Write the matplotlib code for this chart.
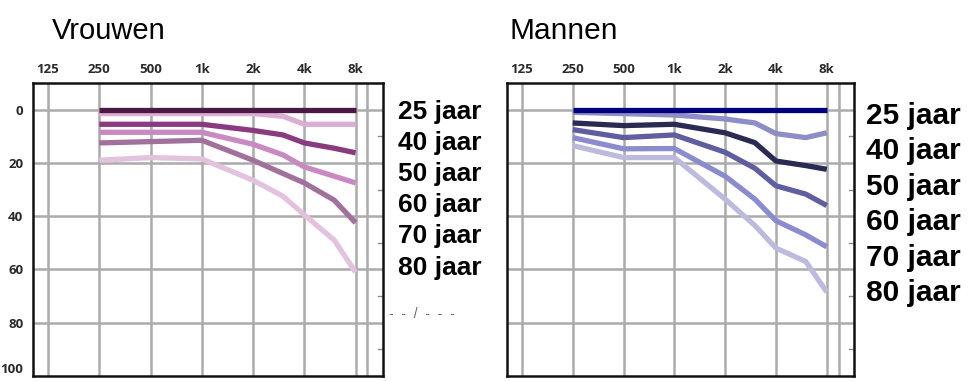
import matplotlib
matplotlib.use("Agg")
import matplotlib.pyplot as plt
from matplotlib.ticker import NullLocator
from matplotlib.transforms import blended_transform_factory

# ---- data ----
freqs = [250, 500, 1000, 2000, 3000, 4000, 6000, 8000]
ages = ["25 jaar", "40 jaar", "50 jaar", "60 jaar", "70 jaar", "80 jaar"]

women_25 = [0, 0, 0, 0, 0, 0, 0, 0]
women_40 = [1.5, 1.5, 1.5, 1.5, 2.5, 5.5, 5.5, 5.5]
women_50 = [5.5, 5.5, 5.5, 7.8, 9.5, 12.5, 14.5, 16.2]
women_60 = [8.5, 8.5, 8.5, 13, 17, 21.5, 25, 27.5]
women_70 = [12.5, 12, 11.5, 19, 24, 27.5, 34, 42.5]
women_80 = [19, 18, 18.5, 26.5, 32.5, 39.5, 49, 61]

men_25 = [0, 0, 0, 0, 0, 0, 0, 0]
men_40 = [1, 1.5, 2, 3.5, 5, 9, 10.5, 8.7]
men_50 = [5, 6, 5.5, 8.7, 12.4, 19.3, 21, 22.4]
men_60 = [7.5, 10.5, 9.5, 16, 22, 28.6, 31.7, 36]
men_70 = [10.5, 14.7, 14.6, 25, 33.6, 41.7, 47, 51.5]
men_80 = [13.5, 18, 18, 33.6, 43.5, 52, 57, 68.5]

tick_freqs = [125, 250, 500, 1000, 2000, 4000, 8000]
tick_labels = ["125", "250", "500", "1k", "2k", "4k", "8k"]
extra_grid_freq = 9400
db_ticks = [0, 20, 40, 60, 80, 100]
db_minor = [10, 30, 50, 70, 90]

women_series = [women_25, women_40, women_50, women_60, women_70, women_80]
men_series = [men_25, men_40, men_50, men_60, men_70, men_80]
women_colors = ["#4b1a44", "#dcaed6", "#8a3b80", "#c98ac2", "#a1709b", "#e3c2de"]
men_colors = ["#00007f", "#8e8ec6", "#2b2a52", "#5f5ea0", "#8b8bcf", "#bcbbdd"]

fig = plt.figure(figsize=(9.8, 3.81), dpi=100)

def setup(ax, show_y):
    ax.set_xscale("log", base=2)
    ax.set_xlim(102, 11600)
    ax.set_ylim(100, -10)
    ax.set_xticks(tick_freqs)
    ax.set_xticklabels(tick_labels)
    ax.xaxis.set_minor_locator(NullLocator())
    ax.yaxis.set_minor_locator(NullLocator())
    ax.xaxis.tick_top()
    ax.tick_params(axis="x", length=0, pad=5, labelsize=9.5, labelcolor="#2a2a2a")
    for lab in ax.get_xticklabels():
        lab.set_fontweight("bold")
        lab.set_family("Open Sans")
    ax.set_yticks(db_ticks)
    if show_y:
        ax.set_yticklabels([str(v) for v in db_ticks])
        ax.tick_params(axis="y", length=0, pad=7, labelsize=9.5, labelcolor="#2a2a2a")
        labs = ax.get_yticklabels()
        for lab in labs:
            lab.set_fontweight("bold")
            lab.set_family("Open Sans")
        labs[-1].set_verticalalignment("bottom")
    else:
        ax.set_yticklabels([])
        ax.tick_params(axis="y", length=0)
    for f in tick_freqs + [extra_grid_freq]:
        ax.axvline(f, color="#ababab", lw=1.8, zorder=1)
    for d in db_ticks[:-1]:
        ax.axhline(d, color="#ababab", lw=1.8, zorder=1)
    tr = blended_transform_factory(ax.transAxes, ax.transData)
    for d in db_minor:
        ax.plot([0.985, 1.0], [d, d], transform=tr, color="#8a8a8a", lw=1.0, zorder=2)
    for s in ax.spines.values():
        s.set_color("#111111")
        s.set_linewidth(1.8)

axL = fig.add_axes([33 / 980, 1 - 376 / 381, 350 / 980, 293 / 381])
axR = fig.add_axes([507 / 980, 1 - 376 / 381, 347 / 980, 293 / 381])
setup(axL, True)
setup(axR, False)

for vals, col in reversed(list(zip(women_series, women_colors))):
    axL.plot(freqs, vals, color=col, lw=3.8, solid_capstyle="butt", zorder=3)
for vals, col in reversed(list(zip(men_series, men_colors))):
    axR.plot(freqs, vals, color=col, lw=3.8, solid_capstyle="butt", zorder=3)

# titles
fig.text(52 / 980, 1 - 39 / 381, "Vrouwen", fontsize=21, family="Liberation Sans",
         ha="left", va="baseline")
fig.text(509 / 980, 1 - 39 / 381, "Mannen", fontsize=21.5, family="Liberation Sans",
         ha="left", va="baseline")

# age labels
left_base = [118.5, 149.5, 181, 212, 243.5, 275]
right_base = [123.5, 159, 194.5, 230, 265.5, 301]
for lab, yb in zip(ages, left_base):
    fig.text(398 / 980, 1 - yb / 381, lab, fontsize=19, fontweight="bold",
             family="Liberation Sans", ha="left", va="baseline")
for lab, yb in zip(ages, right_base):
    fig.text(866 / 980, 1 - yb / 381, lab, fontsize=21.5, fontweight="bold",
             family="Liberation Sans", ha="left", va="baseline")

# partially hidden label remnant
fig.text(389 / 980, 1 - 318 / 381, "-  -  /  -  -  -", fontsize=10, color="#666666",
         family="Liberation Sans", ha="left", va="baseline")

fig.savefig("out.png", dpi=100)
